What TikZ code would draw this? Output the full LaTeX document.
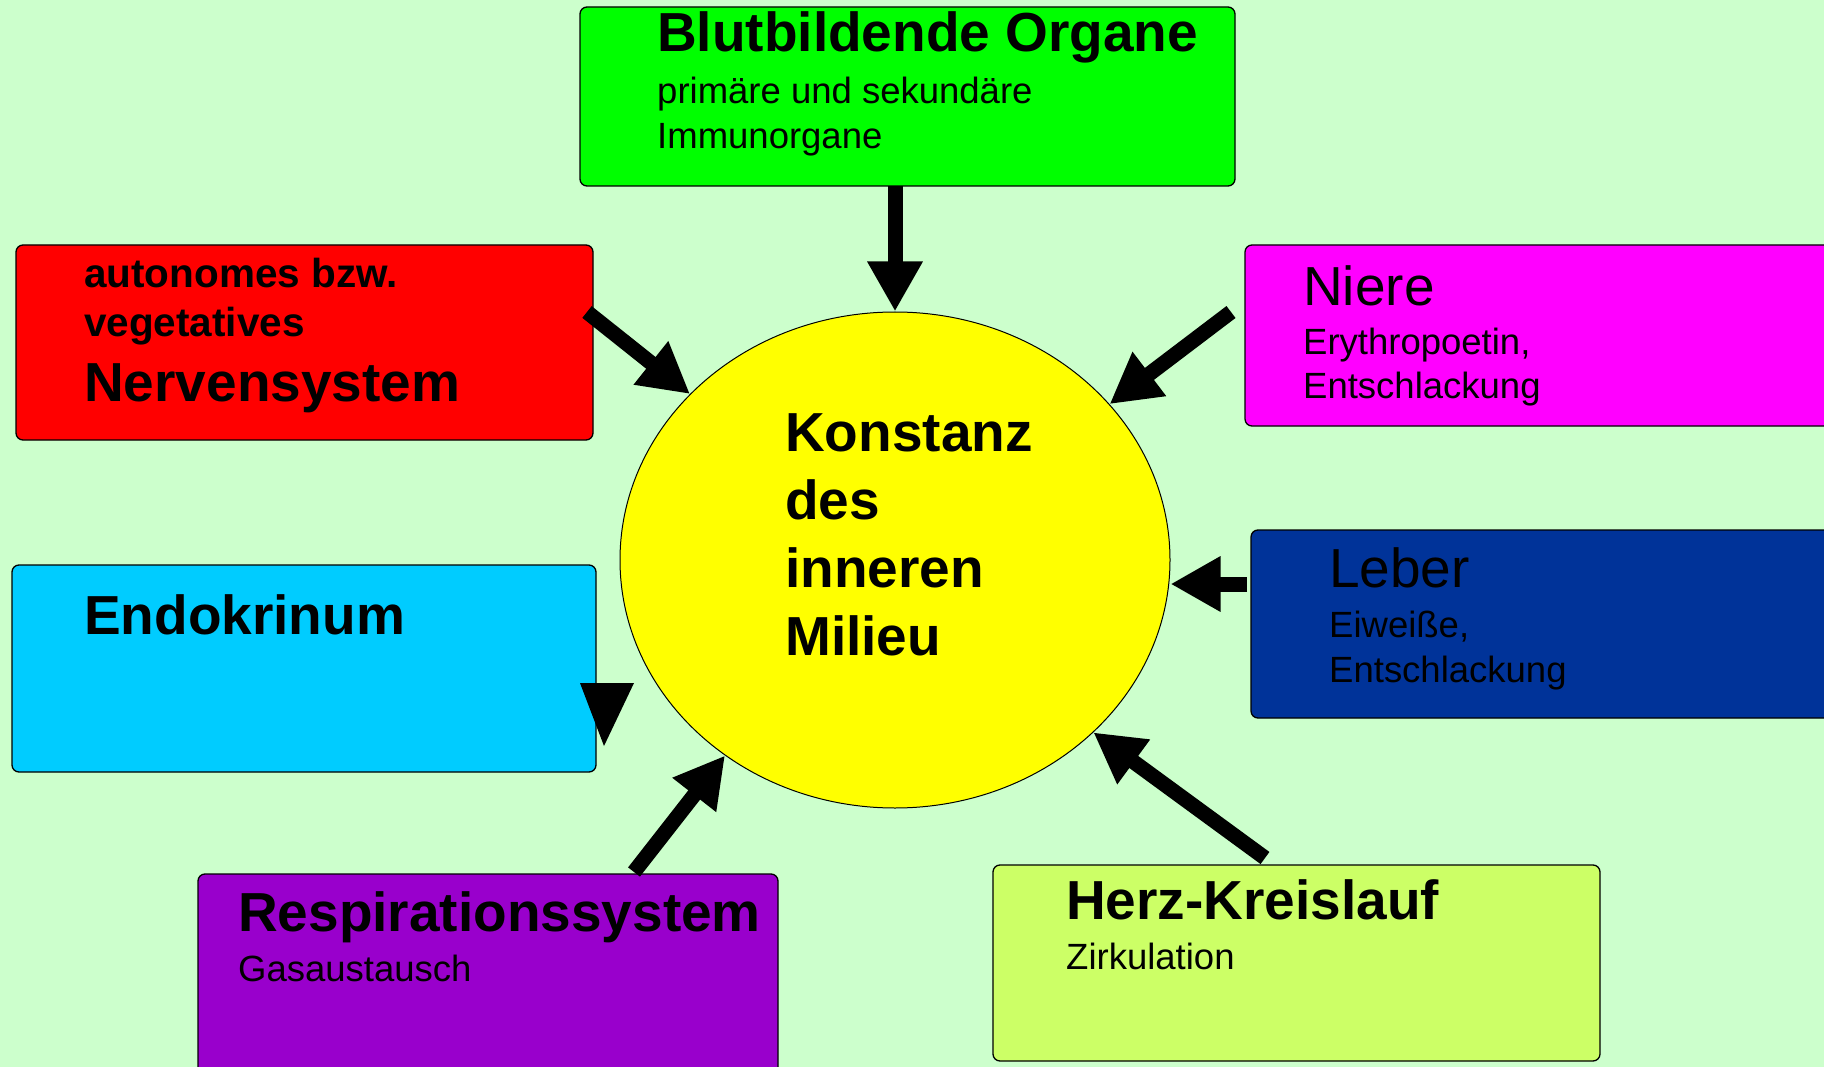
\documentclass[tikz,border=0pt]{standalone}
\usepackage{fontspec}
\setmainfont{Liberation Sans}
\usetikzlibrary{shapes.geometric, arrows.meta, calc}
\definecolor{bgmint}{RGB}{204, 255, 204}
\definecolor{blutgreen}{RGB}{0, 255, 0}
\definecolor{nervred}{RGB}{255, 0, 0}
\definecolor{nieremag}{RGB}{255, 0, 255}
\definecolor{leberblue}{RGB}{0, 51, 153}
\definecolor{endocyan}{RGB}{0, 204, 255}
\definecolor{resppurple}{RGB}{153, 0, 204}
\definecolor{herzlime}{RGB}{204, 255, 102}
\definecolor{milieuyellow}{RGB}{255, 255, 0}

\begin{document}
\begin{tikzpicture}[
      x=1pt, y=-1pt,
      >={Triangle[length=50pt, width=52pt]},
      organ/.style={rectangle, rounded corners=7pt, draw=black, line width=1.3pt,
                    anchor=north west, inner sep=0pt, outer sep=0pt},
      head/.style={anchor=base west, inner sep=0pt, font=\fontsize{55}{60}\selectfont\bfseries},
      plain/.style={anchor=base west, inner sep=0pt, font=\fontsize{55}{60}\selectfont},
      sub/.style={anchor=base west, inner sep=0pt, font=\fontsize{36.5}{44}\selectfont},
      midhead/.style={anchor=base west, inner sep=0pt, font=\fontsize{40.5}{48}\selectfont\bfseries},
      arrow/.style={->, line width=15pt, draw=black}
  ]
  \useasboundingbox (0,0) rectangle (1824,1067);
  \clip (0,0) rectangle (1824,1067);
  \fill[bgmint] (0,0) rectangle (1824,1067);

  % organ boxes
  \node[organ, fill=blutgreen, minimum width=655pt, minimum height=179pt]  (blut)  at (580,7)    {};
  \node[organ, fill=nervred, minimum width=577pt, minimum height=195pt]    (nerv)  at (16,245)   {};
  \node[organ, fill=nieremag, minimum width=620pt, minimum height=181pt]   (niere) at (1245,245) {};
  \node[organ, fill=leberblue, minimum width=620pt, minimum height=188pt]  (leber) at (1251,530) {};
  \node[organ, fill=endocyan, minimum width=584pt, minimum height=207pt]   (endo)  at (12,565)   {};
  \node[organ, fill=resppurple, minimum width=580pt, minimum height=250pt] (resp)  at (198,874)  {};
  \node[organ, fill=herzlime, minimum width=607pt, minimum height=196pt]   (herz)  at (993,865)  {};

  % centre
  \node[ellipse, draw=black, line width=1pt, fill=milieuyellow, inner sep=0pt,
        minimum width=550pt, minimum height=496pt] (milieu) at (895,560) {};
  \foreach \w [count=\i] in {Konstanz, des, inneren, Milieu}
    \node[head] (konst\i) at (785, 383+68*\i) {\w};

  % texts
  \node[head] (blut-t)  at ($(blut.north west)+(77,45)$)  {Blutbildende Organe};
  \node[sub]  (blut-s1) at ($(blut.north west)+(77,97)$)  {primäre und sekundäre};
  \node[sub]  (blut-s2) at ($(blut.north west)+(77,142)$) {Immunorgane};

  \node[midhead] (nerv-s1) at ($(nerv.north west)+(68,43)$)  {autonomes bzw.};
  \node[midhead] (nerv-s2) at ($(nerv.north west)+(68,92)$)  {vegetatives};
  \node[head]    (nerv-t)  at ($(nerv.north west)+(68,156)$) {Nervensystem};

  \node[plain] (niere-t)  at ($(niere.north west)+(58,61)$)  {Niere};
  \node[sub]   (niere-s1) at ($(niere.north west)+(58,110)$) {Erythropoetin,};
  \node[sub]   (niere-s2) at ($(niere.north west)+(58,154)$) {Entschlackung};

  \node[plain] (leber-t)  at ($(leber.north west)+(78,57)$)  {Leber};
  \node[sub]   (leber-s1) at ($(leber.north west)+(78,107)$) {Eiweiße,};
  \node[sub]   (leber-s2) at ($(leber.north west)+(78,152)$) {Entschlackung};

  \node[head] (endo-t) at ($(endo.north west)+(72,69)$) {Endokrinum};

  \node[head] (resp-t)  at ($(resp.north west)+(40,57)$)  {Respirationssystem};
  \node[sub]  (resp-s1) at ($(resp.north west)+(40,107)$) {Gasaustausch};

  \node[head] (herz-t)  at ($(herz.north west)+(73,54)$)  {Herz-Kreislauf};
  \node[sub]  (herz-s1) at ($(herz.north west)+(73,104)$) {Zirkulation};

  % arrows into the centre
  \draw[arrow] (blut.south -| milieu.north) -- (milieu.north);
  \draw[arrow] ($(nerv.north east)+(-6,67)$) -- (milieu.141);
  \draw[arrow] ($(niere.north west)+(-14,67)$) -- (milieu.36);
  \coordinate (leberstart) at ($(leber.north west)+(-4,54)$);
  \draw[arrow] (leberstart) -- (leberstart -| milieu.east);
  \fill[black] ($(endo.north east)+(-16,118)$) -- ++(54,0) -- ++(-30,63) -- cycle;
  \draw[arrow] ($(resp.north west)+(436,-2)$) -- (milieu.229);
  \draw[arrow] ($(herz.north west)+(272,-7)$) -- (milieu.319);
\end{tikzpicture}
\end{document}
